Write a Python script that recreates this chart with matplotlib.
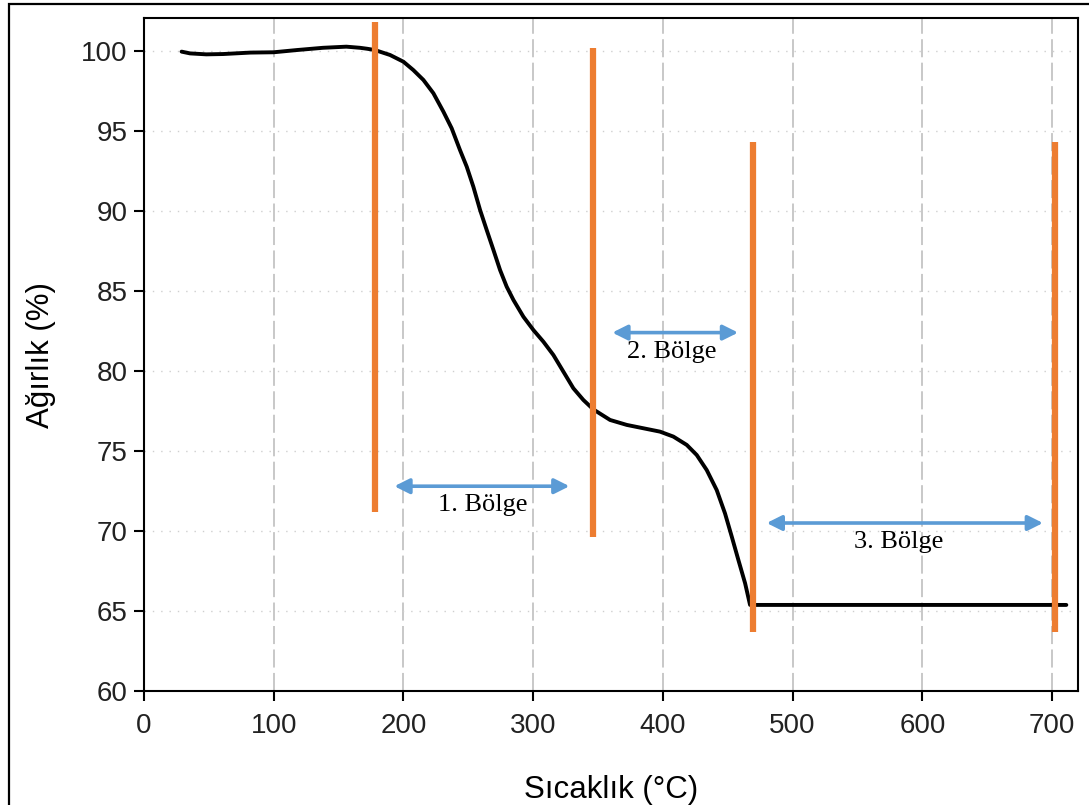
import numpy as np
import matplotlib.pyplot as plt
from matplotlib.patches import Rectangle

# TGA curve
temp = [29, 35.5, 48, 61, 82, 100, 118, 138, 156, 166.5, 172, 178, 189.7, 200,
        207.6, 215.4, 223.1, 230.8, 237.2, 243.6, 248.8, 253.9, 259.1, 264.2,
        269.4, 274.5, 279.6, 284.8, 292.5, 300.2, 307.9, 315.6, 323.3, 331,
        338.7, 346.4, 359.3, 372.2, 385, 397.8, 408.1, 418.4, 426.1, 433.8,
        441.5, 447.9, 453.1, 458.2, 463.4, 467.2, 480, 550, 600, 650, 700, 711]
weight = [99.96, 99.85, 99.79, 99.81, 99.9, 99.92, 100.06, 100.2, 100.27, 100.2,
          100.14, 100.06, 99.75, 99.33, 98.81, 98.19, 97.36, 96.21, 95.17, 93.81,
          92.77, 91.52, 90.06, 88.81, 87.56, 86.31, 85.27, 84.44, 83.39, 82.56,
          81.83, 81.0, 79.96, 78.92, 78.19, 77.6, 76.94, 76.63, 76.42, 76.21,
          75.9, 75.38, 74.75, 73.81, 72.56, 71.1, 69.65, 68.19, 66.73, 65.38,
          65.38, 65.38, 65.38, 65.38, 65.38, 65.38]

# region boundaries (orange bars)
sep_x = [178, 346, 469.5, 702]
sep_lo = [71.2, 69.6, 63.7, 63.7]
sep_hi = [101.8, 100.2, 94.3, 94.3]

# region arrows and labels
reg_names = ["1. Bölge", "2. Bölge", "3. Bölge"]
arr_x0 = [193, 361, 480]
arr_x1 = [328, 458, 693]
arr_y = [72.8, 82.4, 70.5]
txt_x = [261, 407, 582]
txt_y = [71.6, 81.2, 69.3]

fig = plt.figure(figsize=(10.89, 8.05), dpi=100)
ax = fig.add_axes([0.1322, 0.1416, 0.8577, 0.836])

ax.set_xlim(0, 720)
ax.set_ylim(60, 102.06)
ax.set_xticks(range(0, 701, 100))
ax.set_yticks(range(60, 101, 5))

for xv in range(100, 701, 100):
    ax.axvline(xv, color="#c4c4c4", lw=1.3, ls=(0, (10, 3)), zorder=0)
for yv in range(65, 101, 5):
    ax.axhline(yv, color="#cfcfcf", lw=1.0, ls=(0, (1, 5)), zorder=0)

ax.plot(temp, weight, color="black", lw=2.8, solid_capstyle="round",
        solid_joinstyle="round", zorder=3)

ax.vlines(sep_x, sep_lo, sep_hi, color="#ED7D31", lw=4.5, zorder=4)

for name, x0, x1, ya, xt, yt in zip(reg_names, arr_x0, arr_x1, arr_y, txt_x, txt_y):
    ax.annotate("", xy=(x1, ya), xytext=(x0, ya),
                arrowprops=dict(arrowstyle="<|-|>,head_length=0.9,head_width=0.45",
                                color="#5B9BD5", lw=2.6, shrinkA=0, shrinkB=0),
                zorder=5)
    ax.text(xt, yt, name, ha="center", va="center", fontsize=19,
            family="Liberation Serif", color="black")

for s in ax.spines.values():
    s.set_linewidth(1.5)
    s.set_color("black")
ax.tick_params(direction="out", length=7, width=1.5, labelsize=20,
               labelcolor="#222222", pad=5)
ax.tick_params(axis="x", pad=9)
for lab in ax.get_xticklabels() + ax.get_yticklabels():
    lab.set_family("Liberation Sans")

ax.set_xlabel("Sıcaklık (°C)", fontsize=22.5, family="Liberation Sans", labelpad=26)
ax.set_ylabel("Ağırlık (%)", fontsize=22.5, family="Liberation Sans", labelpad=18)

fig.patches.append(Rectangle((9 / 1089, -0.1), 1.2, 1 - 4 / 805 + 0.1,
                             transform=fig.transFigure, fill=False,
                             edgecolor="black", lw=1.6))

fig.savefig("out.png", dpi=100)
